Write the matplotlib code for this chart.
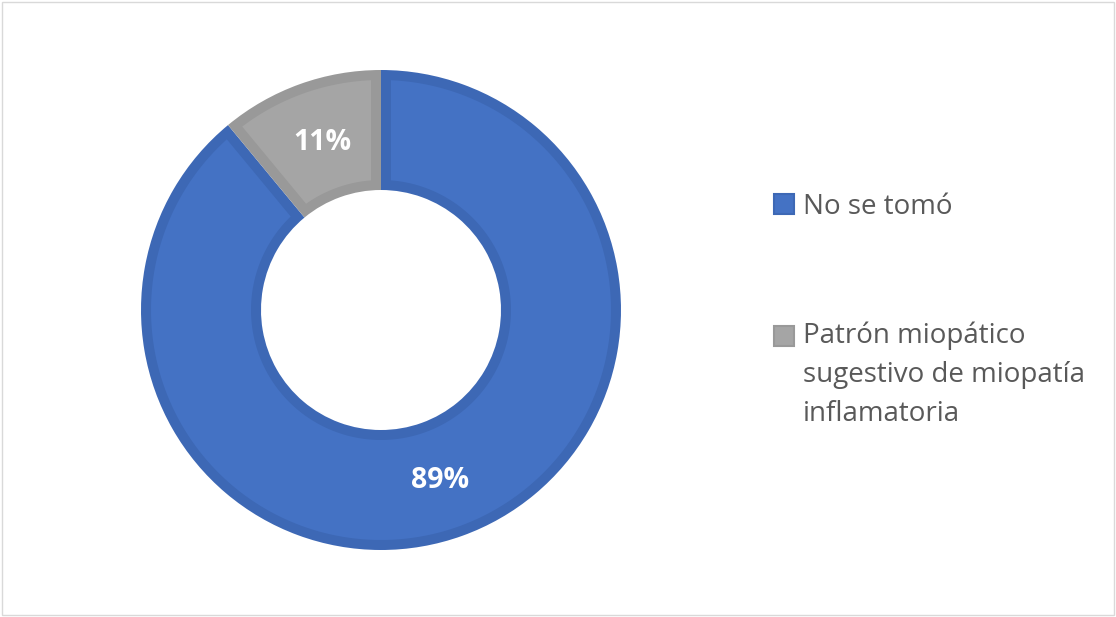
import matplotlib
matplotlib.use("Agg")
import numpy as np
from matplotlib import pyplot as plt
from matplotlib.patches import Rectangle, Polygon

labels = ["No se tomó", "Patrón miopático\nsugestivo de miopatía\ninflamatoria"]
values = [89, 11]
pct_text = ["89%", "11%"]
colors = ["#4472C4", "#A5A5A5"]
edge_colors = ["#3D68B5", "#999999"]

plt.rcParams['font.family'] = ['Open Sans', 'DejaVu Sans']

W, H = 1116, 617
fig = plt.figure(figsize=(W / 100, H / 100), dpi=100)
fig.patch.set_facecolor("white")

# donut area in pixels: center (381, 310), radius 240
cx, cy, R = 381, 310, 240
ax = fig.add_axes([(cx - R) / W, (H - cy - R) / H, 2 * R / W, 2 * R / H])

# full slices in the border colour
wedges, _ = ax.pie(values, radius=1, startangle=90, counterclock=False,
                   colors=edge_colors, wedgeprops=dict(width=0.5, linewidth=0))
ax.set_xlim(-1, 1)
ax.set_ylim(-1, 1)
ax.set_aspect("equal")
ax.axis("off")

# lighter fill inset by the border width, so each border stays inside its slice
d = 10 / R
for w, col in zip(wedges, colors):
    ro = w.r - d
    ri = w.r - w.width + d
    a_o = np.linspace(w.theta1 + np.degrees(np.arcsin(d / ro)),
                      w.theta2 - np.degrees(np.arcsin(d / ro)), 200)
    a_i = np.linspace(w.theta2 - np.degrees(np.arcsin(d / ri)),
                      w.theta1 + np.degrees(np.arcsin(d / ri)), 200)
    xs = np.concatenate([ro * np.cos(np.radians(a_o)), ri * np.cos(np.radians(a_i))])
    ys = np.concatenate([ro * np.sin(np.radians(a_o)), ri * np.sin(np.radians(a_i))])
    ax.add_patch(Polygon(np.column_stack([xs, ys]), closed=True,
                         facecolor=col, edgecolor="none"))

# percentage labels
ax.text((440 - cx) / R, (cy - 480) / R, pct_text[0], color="white", fontsize=20.5,
        fontweight="bold", ha="center", va="center")
ax.text((322 - cx) / R, (cy - 143) / R, pct_text[1], color="white", fontsize=20.5,
        fontweight="bold", ha="center", va="center")

# legend drawn by hand
leg_x = 774
sq = 20
sq_bottoms = [214, 346]
baselines = [214, 347]
for lab, col, ec, sb, base in zip(labels, colors, edge_colors, sq_bottoms, baselines):
    fig.patches.append(Rectangle((leg_x / W, (H - sb) / H), sq / W, sq / H,
                                 transform=fig.transFigure, facecolor=col,
                                 edgecolor=ec, linewidth=1.5))
    n = lab.count("\n")
    fig.text(803 / W, (H - base - 37 * n) / H, lab, color="#595959", fontsize=20,
             ha="left", va="baseline", linespacing=1.52)

# light border round the chart
fig.patches.append(Rectangle((2 / W, 2 / H), (W - 4) / W, (H - 4) / H,
                             transform=fig.transFigure, facecolor="none",
                             edgecolor="#D9D9D9", linewidth=1))

fig.savefig("out.png", dpi=100)
